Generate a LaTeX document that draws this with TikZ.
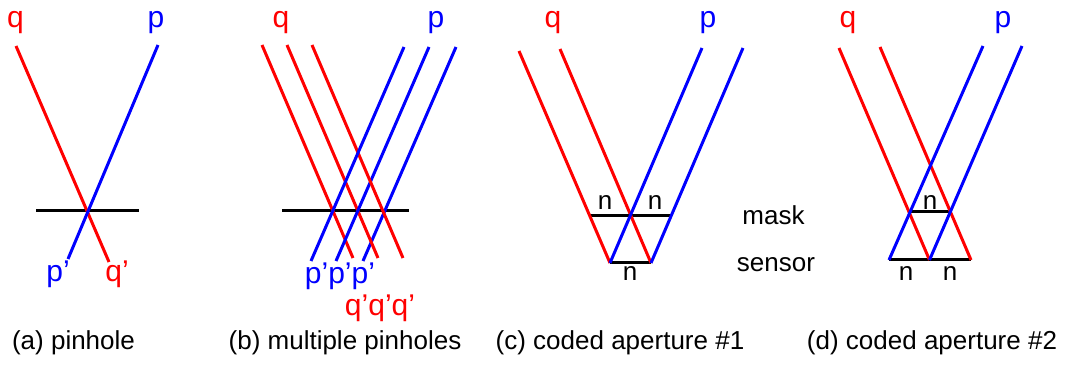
\documentclass[tikz,border=0pt]{standalone}
\usepackage{fontspec}
\setmainfont{Liberation Sans}
\usetikzlibrary{positioning}
\definecolor{rayred}{RGB}{255,0,0}
\definecolor{rayblue}{RGB}{0,0,255}

\begin{document}
\begin{tikzpicture}[
    x=0.5pt, y=-0.5pt,
    ray/.style={line width=1.5pt},
    qray/.style={ray, draw=rayred},
    pray/.style={ray, draw=rayblue},
    plane/.style={ray, draw=black},
    lbl/.style={inner sep=0pt, anchor=base, font=\fontsize{13}{15}\selectfont},
    qlbl/.style={lbl, text=rayred, font=\fontsize{15}{17}\selectfont},
    plbl/.style={lbl, text=rayblue, font=\fontsize{15}{17}\selectfont}]
\useasboundingbox (0,0) rectangle (1066,367);

% (a) pinhole
\coordinate (aq0) at (16,46);   \coordinate (aq1) at (109,262);
\coordinate (ap0) at (158,45);  \coordinate (ap1) at (68,259);
\coordinate (am0) at (36,211);  \coordinate (am1) at (139,211);
\draw[plane] (am0)--(am1);
\draw[qray] (aq0)--(aq1);
\draw[pray] (ap0)--(ap1);
\node[qlbl] (aq) at (15.5,28) {q};
\node[plbl] (ap) at (156,28) {p};
\node[plbl] (ap') at (58,282) {p'};
\node[qlbl] (aq') at (117,282) {q'};
\node[lbl] (capa) at (73.5,350) {(a) pinhole};

% (b) multiple pinholes
\coordinate (bm0) at (282,211); \coordinate (bm1) at (409,211);
\draw[plane] (bm0)--(bm1);
\foreach \i/\xq/\xp in {0/262/456, 1/287/429, 2/312/404} {
  \coordinate (bq\i) at (\xq,45);   \coordinate (bq\i') at (\xq+91,258);
  \coordinate (bp\i) at (\xp,47);   \coordinate (bp\i') at (\xp-93,261);
  \draw[qray] (bq\i)--(bq\i');
  \draw[pray] (bp\i)--(bp\i');
}
\node[qlbl] (bq) at (281,28) {q};
\node[plbl] (bp) at (436,28) {p};
\node[plbl] (bp') at (340,284) {p'p'p'};
\node[qlbl] (bq') at (380,316) {q'q'q'};
\node[lbl] (capb) at (345,350) {(b) multiple pinholes};

% (c) coded aperture #1
\coordinate (cm0) at (590,216); \coordinate (cm1) at (671,216);
\coordinate (cs0) at (610,263); \coordinate (cs1) at (651,263);
\coordinate (cq0) at (519,51);  \coordinate (cq1) at (560,49);
\coordinate (cp0) at (702,48);  \coordinate (cp1) at (743,48);
\draw[plane] (cm0)--(cm1);
\draw[plane] (cs0)--(cs1);
\draw[qray] (cq0)--(cs0);
\draw[qray] (cq1)--(cs1);
\draw[pray] (cp0)--(cs0);
\draw[pray] (cp1)--(cs1);
\node[qlbl] (cq) at (553,28) {q};
\node[plbl] (cp) at (708,28) {p};
\node[lbl] (cn1) at (605,210) {n};
\node[lbl] (cn2) at (655,210) {n};
\node[lbl] (cn3) at (630,281) {n};
\node[lbl] (mask) at (773.5,225) {mask};
\node[lbl] (sensor) at (776,272) {sensor};
\node[lbl] (capc) at (620,350) {(c) coded aperture \#1};

% (d) coded aperture #2
\coordinate (dm0) at (910,212); \coordinate (dm1) at (951,212);
\coordinate (ds0) at (889,260); \coordinate (dsm) at (929.5,260); \coordinate (ds1) at (971,260);
\coordinate (dq0) at (839,48);  \coordinate (dq1) at (880,47);
\coordinate (dp0) at (983,46);  \coordinate (dp1) at (1022,46);
\draw[plane] (dm0)--(dm1);
\draw[plane] (ds0)--(ds1);
\draw[qray] (dq0)--(dsm);
\draw[qray] (dq1)--(ds1);
\draw[pray] (dp0)--(ds0);
\draw[pray] (dp1)--(dsm);
\node[qlbl] (dq) at (848,28) {q};
\node[plbl] (dp) at (1003,28) {p};
\node[lbl] (dn1) at (930,210) {n};
\node[lbl] (dn2) at (906,281) {n};
\node[lbl] (dn3) at (950,281) {n};
\node[lbl] (capd) at (932,350) {(d) coded aperture \#2};
\end{tikzpicture}
\end{document}
